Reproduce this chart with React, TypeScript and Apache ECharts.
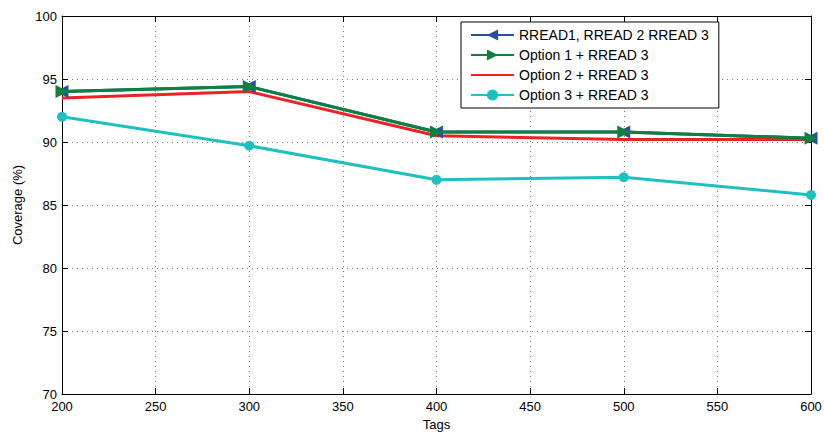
import React, { useEffect, useRef } from "react";
import * as echarts from "echarts";

const tags = [200, 300, 400, 500, 600];
const rread123 = [94.0, 94.4, 90.8, 90.8, 90.3];
const option1 = [94.0, 94.4, 90.8, 90.8, 90.3];
const option2 = [93.5, 94.0, 90.5, 90.2, 90.2];
const option3 = [92.0, 89.7, 87.0, 87.2, 85.8];
const seriesNames = [
  "RREAD1, RREAD 2 RREAD 3",
  "Option 1 + RREAD 3",
  "Option 2 + RREAD 3",
  "Option 3 + RREAD 3",
];

const leftTri = "path://M0,5 L10,0 L10,10 Z";
const rightTri = "path://M10,5 L0,0 L0,10 Z";

export default function App() {
  const ref = useRef<HTMLDivElement>(null);
  useEffect(() => {
    if (!ref.current) return;
    const chart = echarts.init(ref.current, undefined, { renderer: "svg" });
    const font = "Liberation Sans, Arial, sans-serif";
    const mk = (v: number[]) => v.map((y, i) => [tags[i], y]);
    const axisCommon = {
      axisLine: { show: true, lineStyle: { color: "#000", width: 1 } },
      axisTick: { show: true, inside: true, length: 6, lineStyle: { color: "#000" } },
    };
    chart.setOption({
      animation: false,
      backgroundColor: "#fff",
      textStyle: { fontFamily: font },
      grid: { left: 62, right: 14, top: 16, bottom: 41, show: false },
      legend: {
        orient: "vertical",
        left: 461,
        top: 22,
        itemWidth: 43,
        itemHeight: 14,
        itemGap: 6,
        padding: [6, 10, 6, 9],
        borderColor: "#000",
        borderWidth: 1,
        backgroundColor: "#fff",
        textStyle: { fontSize: 14, color: "#000", fontFamily: font },
        data: [
          { name: seriesNames[0] },
          { name: seriesNames[1] },
          { name: seriesNames[2], itemStyle: { opacity: 0 } },
          { name: seriesNames[3] },
        ],
      },
      xAxis: [
        {
          type: "value",
          min: 200,
          max: 600,
          interval: 50,
          name: "Tags",
          nameLocation: "middle",
          nameGap: 24,
          nameTextStyle: { fontSize: 13, color: "#000" },
          ...axisCommon,
          axisLabel: { fontSize: 13, color: "#000", margin: 6 },
          splitLine: { show: true, lineStyle: { color: "#777", type: [1, 4] } },
        },
        {
          type: "value",
          position: "top",
          min: 200,
          max: 600,
          interval: 50,
          ...axisCommon,
          axisLabel: { show: false },
          splitLine: { show: false },
        },
      ],
      yAxis: [
        {
          type: "value",
          min: 70,
          max: 100,
          interval: 5,
          name: "Coverage (%)",
          nameLocation: "middle",
          nameGap: 36,
          nameTextStyle: { fontSize: 13, color: "#000" },
          ...axisCommon,
          axisLabel: { fontSize: 13, color: "#000", margin: 5 },
          splitLine: { show: true, lineStyle: { color: "#777", type: [1, 4] } },
        },
        {
          type: "value",
          position: "right",
          min: 70,
          max: 100,
          interval: 5,
          ...axisCommon,
          axisLabel: { show: false },
          splitLine: { show: false },
        },
      ],
      series: [
        {
          name: seriesNames[0],
          type: "line",
          data: mk(rread123),
          symbol: leftTri,
          symbolSize: 13,
          lineStyle: { color: "#2b4ea2", width: 3 },
          itemStyle: { color: "#2b4ea2" },
          z: 2,
        },
        {
          name: seriesNames[1],
          type: "line",
          data: mk(option1),
          symbol: rightTri,
          symbolSize: 13,
          lineStyle: { color: "#10803e", width: 3 },
          itemStyle: { color: "#10803e" },
          z: 3,
        },
        {
          name: seriesNames[2],
          type: "line",
          data: mk(option2),
          symbol: "none",
          lineStyle: { color: "#ee2125", width: 3 },
          itemStyle: { color: "#ee2125" },
          z: 2,
        },
        {
          name: seriesNames[3],
          type: "line",
          data: mk(option3),
          symbol: "circle",
          symbolSize: 10,
          lineStyle: { color: "#1fc0c0", width: 3 },
          itemStyle: { color: "#1fc0c0" },
          z: 2,
        },
      ],
    });
    return () => chart.dispose();
  }, []);
  return <div ref={ref} style={{ width: 825, height: 436, position: "absolute", left: 0, top: 0 }} />;
}
